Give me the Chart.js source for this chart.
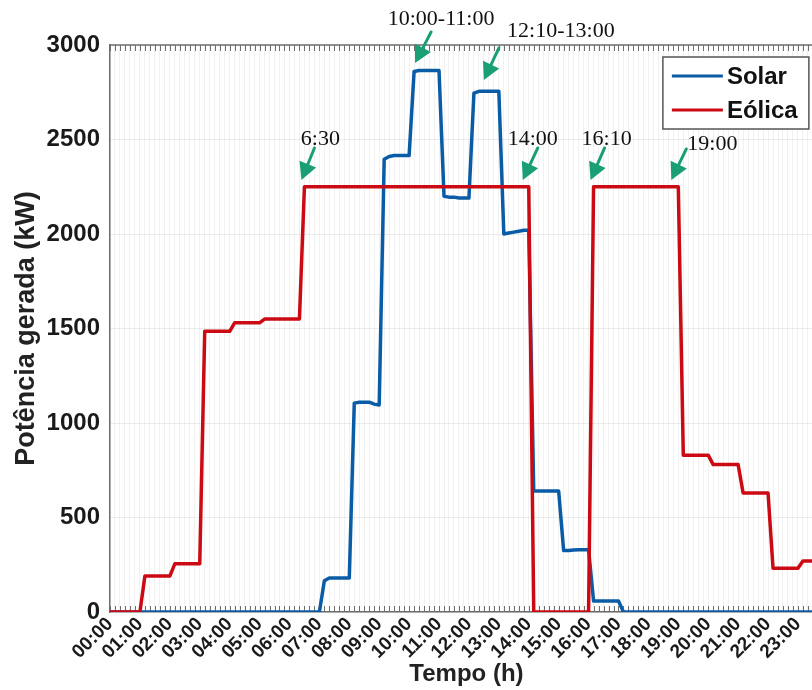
<!DOCTYPE html>
<html>
<head>
<meta charset="utf-8">
<script src="https://cdn.jsdelivr.net/npm/chart.js@4/dist/chart.umd.min.js"></script>
<style>
  html, body { margin: 0; padding: 0; background: #fff; overflow: hidden; }
  #wrap { width: 812px; height: 690px; overflow: hidden; position: relative; }
  #wrap canvas { display: block; }
</style>
</head>
<body>
<div id="wrap"><canvas id="chart" width="840" height="690"></canvas></div>
<script>
// Hour tick labels (one per hour); samples are every 10 minutes
const hourLabels = ['00:00','01:00','02:00','03:00','04:00','05:00','06:00','07:00',
  '08:00','09:00','10:00','11:00','12:00','13:00','14:00','15:00',
  '16:00','17:00','18:00','19:00','20:00','21:00','22:00','23:00'];
const sampleStepMin = 10;

// Generated power (kW), one row per hour: h:00, h:10, h:20, h:30, h:40, h:50
const solarKW = [
  0,0,0,0,0,0,                       // 00
  0,0,0,0,0,0,                       // 01
  0,0,0,0,0,0,                       // 02
  0,0,0,0,0,0,                       // 03
  0,0,0,0,0,0,                       // 04
  0,0,0,0,0,0,                       // 05
  0,0,0,0,0,0,                       // 06
  0,165,180,180,180,180,             // 07
  180,1105,1110,1110,1110,1100,      // 08
  1095,2395,2410,2415,2415,2415,     // 09
  2415,2860,2865,2865,2865,2865,     // 10
  2865,2200,2195,2195,2190,2190,     // 11
  2190,2745,2755,2755,2755,2755,     // 12
  2755,2000,2005,2010,2015,2020,     // 13
  2020,640,640,640,640,640,          // 14
  640,325,325,328,330,330,           // 15
  330,58,58,58,58,58,                // 16
  58,0,0,0,0,0,                      // 17
  0,0,0,0,0,0,                       // 18
  0,0,0,0,0,0,                       // 19
  0,0,0,0,0,0,                       // 20
  0,0,0,0,0,0,                       // 21
  0,0,0,0,0,0,                       // 22
  0,0,0,0,0,0                        // 23
];

const eolicaKW = [
  0,0,0,0,0,0,                       // 00
  0,190,190,190,190,190,             // 01
  190,255,255,255,255,255,           // 02
  255,1485,1485,1485,1485,1485,      // 03
  1485,1530,1530,1530,1530,1530,     // 04
  1530,1550,1550,1550,1550,1550,     // 05
  1550,1550,1550,2250,2250,2250,     // 06
  2250,2250,2250,2250,2250,2250,     // 07
  2250,2250,2250,2250,2250,2250,     // 08
  2250,2250,2250,2250,2250,2250,     // 09
  2250,2250,2250,2250,2250,2250,     // 10
  2250,2250,2250,2250,2250,2250,     // 11
  2250,2250,2250,2250,2250,2250,     // 12
  2250,2250,2250,2250,2250,2250,     // 13
  2250,0,0,0,0,0,                    // 14
  0,0,0,0,0,0,                       // 15
  0,2250,2250,2250,2250,2250,        // 16
  2250,2250,2250,2250,2250,2250,     // 17
  2250,2250,2250,2250,2250,2250,     // 18
  2250,830,830,830,830,830,          // 19
  830,780,780,780,780,780,           // 20
  780,630,630,630,630,630,           // 21
  630,232,232,232,232,232,           // 22
  232,270,270,270,270,270            // 23
];

const seriesNames = ['Solar', 'Eólica'];
const yTicks = [0, 500, 1000, 1500, 2000, 2500, 3000];

// Callouts: label text, point the arrow tip at (minute, kW)
const calloutText = ['10:00-11:00', '12:10-13:00', '6:30', '14:00', '16:10', '19:00'];
const calloutTipMin = [612, 750, 384, 828, 964, 1126];
const calloutTipKW  = [2905, 2815, 2286, 2286, 2286, 2286];

// Callout geometry in pixels relative to the tip: tail offset, text centre / baseline
const calloutGeom = [
  { tail: [16, -31], text: [26, -38] },
  { tail: [15, -32], text: [77, -43] },
  { tail: [13, -32], text: [19, -35] },
  { tail: [15, -32], text: [10, -35] },
  { tail: [14, -32], text: [16, -35] },
  { tail: [15, -31], text: [41, -30] }
];

const toPoints = arr => arr.map((v, i) => ({ x: i * sampleStepMin, y: v }));

const COLORS = { solar: '#0b5ca6', eolica: '#cc0a14', arrow: '#1a9e76', axis: '#6e6e6e' };
const SANS = '"Liberation Sans", Arial, Helvetica, sans-serif';

// Inward tick marks on top and bottom edges, plus the top frame line
const framePlugin = {
  id: 'frame',
  beforeDatasetsDraw(chart) {
    const { ctx, chartArea: a, scales: { x } } = chart;
    ctx.save();
    ctx.strokeStyle = COLORS.axis;
    ctx.lineWidth = 1;
    ctx.beginPath();
    x.ticks.forEach(t => {
      const px = Math.round(x.getPixelForValue(t.value)) + 0.5;
      ctx.moveTo(px, a.top); ctx.lineTo(px, a.top + 6);
      ctx.moveTo(px, a.bottom); ctx.lineTo(px, a.bottom - 6);
    });
    ctx.stroke();
    ctx.lineWidth = 1.5;
    ctx.beginPath();
    ctx.moveTo(a.left, a.top); ctx.lineTo(a.right, a.top);
    ctx.stroke();
    ctx.restore();
  }
};

// Boxed legend inside the upper-right corner of the plot
const boxLegendPlugin = {
  id: 'boxLegend',
  afterDraw(chart) {
    const { ctx, chartArea: a } = chart;
    const w = 146, h = 72;
    const x0 = a.right - 14 - w, y0 = a.top + 12;
    ctx.save();
    ctx.fillStyle = '#fff';
    ctx.fillRect(x0, y0, w, h);
    ctx.strokeStyle = '#555';
    ctx.lineWidth = 1.5;
    ctx.strokeRect(x0, y0, w, h);
    ctx.font = 'bold 24px ' + SANS;
    ctx.textBaseline = 'middle';
    ctx.textAlign = 'left';
    chart.data.datasets.forEach((ds, i) => {
      const cy = y0 + 19 + i * 34;
      ctx.strokeStyle = ds.borderColor;
      ctx.lineWidth = 3;
      ctx.beginPath();
      ctx.moveTo(x0 + 9, cy); ctx.lineTo(x0 + 60, cy);
      ctx.stroke();
      ctx.fillStyle = '#111';
      ctx.fillText(ds.label, x0 + 64, cy + 1);
    });
    ctx.restore();
  }
};

// Green arrows with time callouts
const calloutPlugin = {
  id: 'callouts',
  afterDraw(chart) {
    const { ctx, scales: { x, y } } = chart;
    ctx.save();
    ctx.lineWidth = 3;
    ctx.lineCap = 'round';
    calloutText.forEach((txt, i) => {
      const tx = x.getPixelForValue(calloutTipMin[i]);
      const ty = y.getPixelForValue(calloutTipKW[i]);
      const g = calloutGeom[i];
      const sx = tx + g.tail[0], sy = ty + g.tail[1];
      const ang = Math.atan2(ty - sy, tx - sx);
      const head = 17, hw = 9;
      const bx = tx - head * Math.cos(ang), by = ty - head * Math.sin(ang);
      ctx.strokeStyle = COLORS.arrow;
      ctx.fillStyle = COLORS.arrow;
      ctx.beginPath(); ctx.moveTo(sx, sy); ctx.lineTo(bx, by); ctx.stroke();
      ctx.beginPath();
      ctx.moveTo(tx, ty);
      ctx.lineTo(bx + hw * Math.sin(ang), by - hw * Math.cos(ang));
      ctx.lineTo(bx - hw * Math.sin(ang), by + hw * Math.cos(ang));
      ctx.closePath(); ctx.fill();
      ctx.fillStyle = '#111';
      ctx.font = '22px "Liberation Serif", "Times New Roman", serif';
      ctx.textAlign = 'center';
      ctx.textBaseline = 'alphabetic';
      ctx.fillText(txt, tx + g.text[0], ty + g.text[1]);
    });
    ctx.restore();
  }
};

new Chart(document.getElementById('chart'), {
  type: 'line',
  data: {
    datasets: [
      { label: seriesNames[0], data: toPoints(solarKW), borderColor: COLORS.solar,
        backgroundColor: COLORS.solar, borderWidth: 3.5, pointRadius: 0, tension: 0,
        borderJoinStyle: 'round', order: 1 },
      { label: seriesNames[1], data: toPoints(eolicaKW), borderColor: COLORS.eolica,
        backgroundColor: COLORS.eolica, borderWidth: 3.5, pointRadius: 0, tension: 0,
        borderJoinStyle: 'round', order: 0 }
    ]
  },
  options: {
    responsive: false,
    devicePixelRatio: 1,
    animation: false,
    events: [],
    layout: { padding: { top: 45, right: 15, left: 0, bottom: 0 } },
    plugins: { legend: { display: false }, tooltip: { enabled: false } },
    scales: {
      x: {
        type: 'linear',
        min: 0,
        max: (hourLabels.length * 6 - 1) * sampleStepMin,
        afterFit(scale) { scale.height = 78; },
        afterBuildTicks(scale) {
          const t = [];
          for (let v = scale.min; v <= scale.max; v += sampleStepMin) t.push({ value: v });
          scale.ticks = t;
        },
        ticks: {
          autoSkip: false,
          maxRotation: 45,
          minRotation: 45,
          padding: 1,
          color: '#1a1a1a',
          font: { family: SANS, size: 19, weight: 'bold' },
          callback: v => (v % 60 === 0 ? hourLabels[v / 60] : '')
        },
        grid: { color: 'rgba(0,0,0,0.055)', lineWidth: 1, drawTicks: false },
        border: { display: true, color: COLORS.axis, width: 1.5 },
        title: {
          display: true, text: 'Tempo (h)', color: '#222',
          font: { family: SANS, size: 24, weight: 'bold' },
          padding: { top: 0, bottom: 1 }
        }
      },
      y: {
        min: 0,
        max: 3000,
        afterFit(scale) { scale.width = 110; },
        afterBuildTicks(scale) { scale.ticks = yTicks.map(v => ({ value: v })); },
        ticks: {
          padding: 10,
          color: '#1a1a1a',
          font: { family: SANS, size: 24, weight: 'bold' },
          callback: v => String(v)
        },
        grid: { color: 'rgba(0,0,0,0.07)', lineWidth: 1, drawTicks: false },
        border: { display: true, color: COLORS.axis, width: 1.5 },
        title: {
          display: true, text: 'Potência gerada (kW)', color: '#222',
          font: { family: SANS, size: 27, weight: 'bold' },
          padding: { top: 10, bottom: 0 }
        }
      }
    }
  },
  plugins: [framePlugin, boxLegendPlugin, calloutPlugin]
});
</script>
</body>
</html>
